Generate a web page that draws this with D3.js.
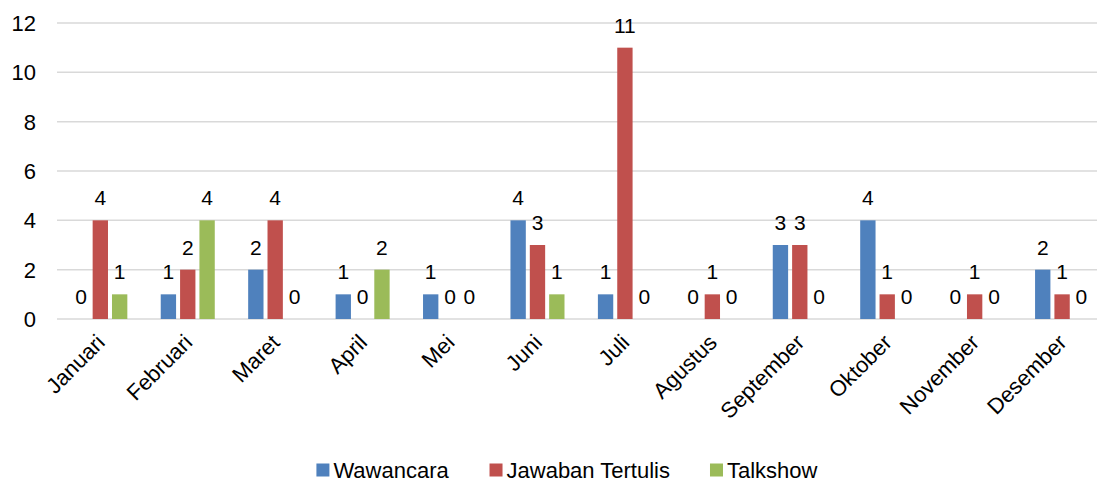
<!DOCTYPE html>
<html>

<head>
    <meta charset="utf-8">
    <script src="https://d3js.org/d3.v7.min.js"></script>
    <style>
        body { margin: 0; background: #fff; }
        text { font-family: "Liberation Sans", Arial, sans-serif; fill: #000; }
    </style>
</head>
<body>
    <script type="text/javascript">

    let width = 1097,
        height = 484;

    // data
    let months = ["Januari", "Februari", "Maret", "April", "Mei", "Juni", "Juli",
                  "Agustus", "September", "Oktober", "November", "Desember"];
    let seriesNames = ["Wawancara", "Jawaban Tertulis", "Talkshow"];
    let wawancara = [0, 1, 2, 1, 1, 4, 1, 0, 3, 4, 0, 2];
    let jawabanTertulis = [4, 2, 4, 0, 0, 3, 11, 1, 3, 1, 1, 1];
    let talkshow = [1, 4, 0, 2, 0, 1, 0, 0, 0, 0, 0, 0];
    let yTicks = [0, 2, 4, 6, 8, 10, 12];
    let colors = ["#4F81BD", "#C0504D", "#9BBB59"];

    let seriesValues = [wawancara, jawabanTertulis, talkshow];

    let svg = d3.select("body").append("svg")
        .attr("width", width)
        .attr("height", height);

    // scales
    let y = d3.scaleLinear()
        .domain([0, 12])
        .range([319, 23]);

    let x0 = d3.scaleBand()
        .domain(months)
        .range([56.6, 1105.8])
        .paddingInner(0.382)
        .paddingOuter(0.191);

    let x1 = d3.scaleBand()
        .domain(seriesNames)
        .range([0, x0.bandwidth()])
        .paddingInner(0.207);

    let color = d3.scaleOrdinal().domain(seriesNames).range(colors);

    // gridlines
    svg.append("g")
        .selectAll("line")
        .data(yTicks)
        .join("line")
            .attr("x1", 57)
            .attr("x2", width)
            .attr("y1", d => y(d))
            .attr("y2", d => y(d))
            .attr("stroke", "#D9D9D9")
            .attr("stroke-width", 1.5);

    // y axis labels
    svg.append("g")
        .selectAll("text")
        .data(yTicks)
        .join("text")
            .attr("x", 36)
            .attr("y", d => y(d))
            .attr("dy", "0.36em")
            .attr("text-anchor", "end")
            .style("font-size", "22px")
            .text(d => d);

    // flat table for bars
    let table = [];
    months.forEach((m, i) => {
        seriesNames.forEach((s, j) => {
            table.push({month: m, series: s, value: seriesValues[j][i]});
        });
    });

    let bars = svg.append("g");
    bars.selectAll("rect")
        .data(table.filter(d => d.value > 0))
        .join("rect")
            .attr("x", d => x0(d.month) + x1(d.series))
            .attr("y", d => y(d.value))
            .attr("width", x1.bandwidth())
            .attr("height", d => y(0) - y(d.value))
            .attr("fill", d => color(d.series));

    // value labels
    bars.selectAll("text")
        .data(table)
        .join("text")
            .attr("x", d => x0(d.month) + x1(d.series) + x1.bandwidth() / 2)
            .attr("y", d => y(d.value) - 15)
            .attr("text-anchor", "middle")
            .style("font-size", "21px")
            .text(d => d.value);

    // month labels, rotated
    svg.append("g")
        .selectAll("text")
        .data(months)
        .join("text")
            .attr("transform", d => `translate(${x0(d) + x0.bandwidth() / 2 - 5},${333}) rotate(-45)`)
            .attr("text-anchor", "end")
            .attr("dy", "0.7em")
            .style("font-size", "22px")
            .text(d => d);

    // legend
    let legend = svg.append("g");
    let items = legend.selectAll("g")
        .data(seriesNames)
        .join("g");
    items.append("rect")
        .attr("width", 13)
        .attr("height", 13)
        .attr("y", -6.5)
        .attr("fill", d => color(d));
    items.append("text")
        .attr("x", 17)
        .attr("dy", "0.36em")
        .style("font-size", "22px")
        .text(d => d);

    // lay items out side by side, centred
    let xPos = 0, gap = 40;
    items.each(function() {
        let w = this.getBBox().width;
        d3.select(this).attr("transform", `translate(${xPos},0)`);
        xPos += w + gap;
    });
    let total = xPos - gap;
    legend.attr("transform", `translate(${567 - total / 2},${470})`);

    </script>
</body>
</html>
